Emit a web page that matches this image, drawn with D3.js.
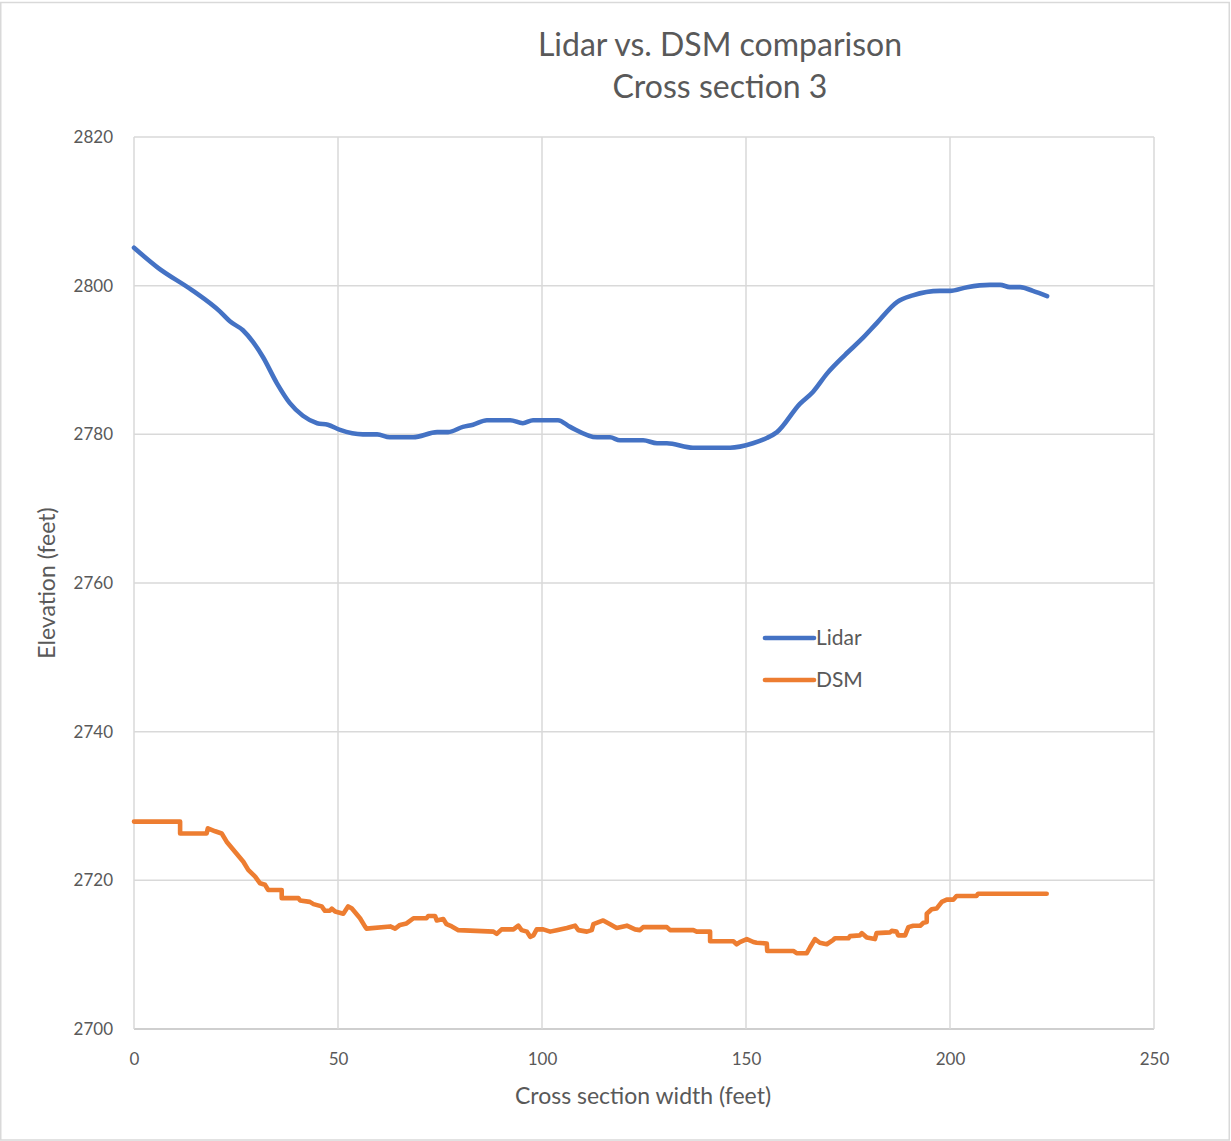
<!DOCTYPE html>
<html>
<head>
<meta charset="utf-8">
<script src="https://cdn.jsdelivr.net/npm/d3@7"></script>
<style>
  html, body { margin: 0; padding: 0; background: #fff; }
  svg { display: block; }
  text { font-family: Lato, "Open Sans", sans-serif; fill: #595959; }
</style>
</head>
<body>
<svg id="chart" width="1231" height="1141"></svg>
<script>
// Cross-section distance (feet) and elevation (feet) for each profile
const lidarX = [0, 5.9, 14.2, 21.1, 23.5, 26.7, 29.2, 31.6, 35.0, 38.2, 41.4, 44.9, 47.5, 50.5, 56.1, 59.6, 62.7, 68.4, 74.3, 77.0, 80.6, 83.1, 86.5, 92.2, 95.3, 97.8, 103.9, 106.9, 113.5, 116.7, 119.1, 124.8, 128.2, 130.6, 137.0, 146.1, 151.7, 155.1, 157.6, 163.2, 166.4, 169.9, 174.3, 178.7, 182.1, 187.0, 190.9, 197.5, 200.0, 204.2, 209.8, 212.3, 214.7, 217.2, 220.3, 223.8];
const lidarY = [2805.1, 2802.4, 2799.4, 2796.5, 2795.2, 2794.0, 2792.4, 2790.4, 2786.9, 2784.2, 2782.5, 2781.5, 2781.3, 2780.6, 2780.0, 2780.0, 2779.6, 2779.6, 2780.3, 2780.3, 2781.0, 2781.3, 2781.9, 2781.9, 2781.5, 2781.9, 2781.9, 2781.0, 2779.6, 2779.6, 2779.2, 2779.2, 2778.8, 2778.8, 2778.2, 2778.2, 2778.8, 2779.5, 2780.3, 2784.1, 2785.7, 2788.2, 2790.7, 2793.0, 2795.0, 2797.8, 2798.7, 2799.3, 2799.3, 2799.8, 2800.1, 2800.1, 2799.8, 2799.8, 2799.3, 2798.6];

const dsmX = [0, 11.3, 11.3, 17.8, 18.1, 19.9, 21.5, 22.7, 26.8, 28.0, 29.7, 30.9, 32.1, 32.9, 36.2, 36.2, 40.3, 40.7, 43.1, 44.0, 46.0, 46.8, 48.0, 48.5, 49.3, 51.3, 52.5, 53.4, 55.4, 56.6, 57.0, 62.8, 64.0, 65.2, 66.8, 68.5, 71.7, 72.1, 73.8, 74.2, 75.8, 76.6, 77.9, 79.5, 88.1, 88.9, 90.1, 93.0, 94.2, 95.0, 96.3, 97.1, 97.9, 98.7, 100.3, 102.0, 103.6, 106.1, 108.1, 108.9, 111.0, 112.2, 112.6, 115.0, 116.7, 118.3, 120.8, 122.8, 124.0, 124.8, 130.6, 131.4, 137.1, 137.9, 141.2, 141.2, 146.9, 147.7, 148.5, 150.2, 151.8, 152.6, 155.1, 155.2, 161.6, 162.4, 164.9, 165.7, 166.9, 168.1, 169.8, 171.4, 171.8, 175.1, 175.5, 177.9, 178.4, 179.6, 181.6, 182.0, 185.3, 185.7, 186.9, 187.3, 189.0, 189.8, 191.0, 192.7, 193.5, 194.3, 194.3, 195.5, 196.7, 198.0, 199.2, 200.8, 201.6, 206.5, 206.9, 223.7];
const dsmY = [2727.9, 2727.9, 2726.3, 2726.3, 2727.0, 2726.6, 2726.3, 2725.2, 2722.5, 2721.4, 2720.5, 2719.6, 2719.4, 2718.7, 2718.7, 2717.6, 2717.6, 2717.3, 2717.1, 2716.8, 2716.5, 2715.9, 2715.9, 2716.2, 2715.8, 2715.5, 2716.5, 2716.2, 2714.9, 2713.8, 2713.5, 2713.8, 2713.5, 2714.0, 2714.2, 2714.9, 2714.9, 2715.2, 2715.2, 2714.6, 2714.8, 2714.1, 2713.8, 2713.3, 2713.1, 2712.8, 2713.4, 2713.4, 2713.9, 2713.3, 2713.1, 2712.4, 2712.6, 2713.4, 2713.4, 2713.1, 2713.3, 2713.6, 2713.9, 2713.3, 2713.1, 2713.3, 2714.1, 2714.6, 2714.1, 2713.6, 2713.9, 2713.4, 2713.3, 2713.7, 2713.7, 2713.3, 2713.3, 2713.1, 2713.1, 2711.8, 2711.8, 2711.4, 2711.7, 2712.1, 2711.7, 2711.6, 2711.5, 2710.5, 2710.5, 2710.2, 2710.2, 2711.0, 2712.1, 2711.6, 2711.4, 2712.0, 2712.2, 2712.2, 2712.5, 2712.6, 2712.9, 2712.3, 2712.1, 2712.9, 2713.0, 2713.2, 2713.1, 2712.6, 2712.6, 2713.7, 2713.9, 2713.9, 2714.3, 2714.4, 2715.5, 2716.1, 2716.2, 2717.1, 2717.4, 2717.4, 2717.9, 2717.9, 2718.2, 2718.2];

const xTicks = [0, 50, 100, 150, 200, 250];
const yTicks = [2700, 2720, 2740, 2760, 2780, 2800, 2820];
const seriesNames = ["Lidar", "DSM"];
const seriesColors = ["#4472C4", "#ED7D31"];
const titleLines = ["Lidar vs. DSM comparison", "Cross section 3"];

const svg = d3.select("#chart");

// chart frame
svg.append("rect")
  .attr("x", 0.75).attr("y", 2.5).attr("width", 1228.5).attr("height", 1137.5)
  .attr("fill", "#fff").attr("stroke", "#d9d9d9").attr("stroke-width", 1.5);

const plot = { left: 134, right: 1154, top: 137, bottom: 1029 };

const x = d3.scaleLinear().domain([0, 250]).range([plot.left, plot.right]);
const y = d3.scaleLinear().domain([2700, 2820]).range([plot.bottom, plot.top]);

// gridlines
const grid = svg.append("g");
grid.selectAll("line.h").data(yTicks).join("line")
  .attr("x1", plot.left).attr("x2", plot.right)
  .attr("y1", d => y(d)).attr("y2", d => y(d))
  .attr("stroke", d => d === 2700 ? "#bfbfbf" : "#d9d9d9").attr("stroke-width", 1.5);
grid.selectAll("line.v").data(xTicks).join("line")
  .attr("y1", plot.top).attr("y2", plot.bottom)
  .attr("x1", d => x(d)).attr("x2", d => x(d))
  .attr("stroke", "#d9d9d9").attr("stroke-width", 1.5);

// axes (labels only, lines come from the grid)
const yAxis = svg.append("g").attr("transform", `translate(${plot.left},0)`)
  .call(d3.axisLeft(y).tickValues(yTicks).tickSize(0).tickPadding(21).tickFormat(d3.format("d")));
const xAxis = svg.append("g").attr("transform", `translate(0,${plot.bottom})`)
  .call(d3.axisBottom(x).tickValues(xTicks).tickSize(0).tickPadding(24).tickFormat(d3.format("d")));
[yAxis, xAxis].forEach(a => {
  a.select(".domain").remove();
  a.selectAll("text").attr("font-size", 17).attr("fill", "#595959")
    .attr("font-family", "Lato, 'Open Sans', sans-serif");
});

// series
const lidar = lidarX.map((d, i) => [d, lidarY[i]]);
const dsm = dsmX.map((d, i) => [d, dsmY[i]]);

svg.append("path").datum(lidar)
  .attr("fill", "none").attr("stroke", seriesColors[0]).attr("stroke-width", 4.6)
  .attr("stroke-linejoin", "round").attr("stroke-linecap", "round")
  .attr("d", d3.line().x(d => x(d[0])).y(d => y(d[1])).curve(d3.curveMonotoneX));

svg.append("path").datum(dsm)
  .attr("fill", "none").attr("stroke", seriesColors[1]).attr("stroke-width", 4.6)
  .attr("stroke-linejoin", "round").attr("stroke-linecap", "round")
  .attr("d", d3.line().x(d => x(d[0])).y(d => y(d[1])));

// title
svg.append("text").attr("x", 720).attr("y", 56).attr("text-anchor", "middle")
  .attr("font-size", 32).attr("fill", "#595959").text(titleLines[0]);
svg.append("text").attr("x", 720).attr("y", 98).attr("text-anchor", "middle")
  .attr("font-size", 32).attr("fill", "#595959").text(titleLines[1]);

// axis titles
svg.append("text").attr("x", 643).attr("y", 1104).attr("text-anchor", "middle")
  .attr("font-size", 23).attr("fill", "#595959").text("Cross section width (feet)");
svg.append("text").attr("transform", "translate(55,583) rotate(-90)").attr("text-anchor", "middle")
  .attr("font-size", 23).attr("fill", "#595959").text("Elevation (feet)");

// legend
const legend = svg.append("g");
seriesNames.forEach((name, i) => {
  const ly = 638 + i * 42;
  legend.append("line").attr("x1", 765).attr("x2", 814).attr("y1", ly).attr("y2", ly)
    .attr("stroke", seriesColors[i]).attr("stroke-width", 4.6).attr("stroke-linecap", "round");
  legend.append("text").attr("x", 816).attr("y", ly + 7)
    .attr("font-size", 21).attr("fill", "#595959").text(name);
});
</script>
</body>
</html>
